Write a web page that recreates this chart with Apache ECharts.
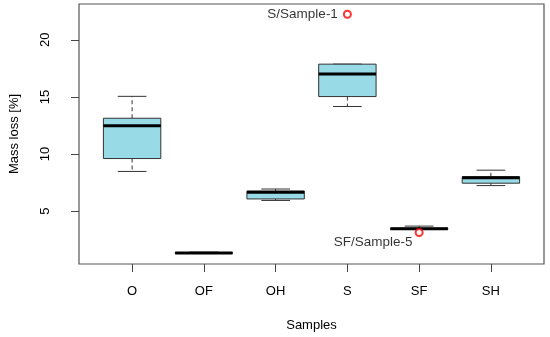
<!DOCTYPE html>
<html><head><meta charset="utf-8">
<script src="https://cdn.jsdelivr.net/npm/echarts@6/dist/echarts.min.js"></script>
<style>html,body{margin:0;padding:0;background:#fff}#c{width:550px;height:337px}</style>
</head><body><div id="c"></div>
<script>
var categories = ['O', 'OF', 'OH', 'S', 'SF', 'SH'];
var whiskerLow  = [8.47, 1.28, 5.93, 14.16, 3.38, 7.23];
var q1          = [9.60, 1.30, 6.06, 15.03, 3.40, 7.44];
var median      = [12.47, 1.33, 6.64, 17.01, 3.44, 7.92];
var q3          = [13.13, 1.36, 6.75, 17.87, 3.50, 8.00];
var whiskerHigh = [15.05, 1.40, 6.93, 17.87, 3.68, 8.58];
var outlierPos   = [4, 5];
var outlierVal   = [22.24, 3.12];
var outlierLabel = ['S/Sample-1', 'SF/Sample-5'];
var yTicks = [5, 10, 15, 20];
var xTicks = [1, 2, 3, 4, 5, 6];

var boxData = categories.map(function (c, i) {
  return [i + 1, whiskerLow[i], q1[i], median[i], q3[i], whiskerHigh[i]];
});
var FONT = 'Liberation Sans, Arial, sans-serif';
var chart = echarts.init(document.getElementById('c'), null, {renderer: 'canvas'});

function renderBox(params, api) {
  var x = api.value(0);
  var lo = api.coord([x, api.value(1)]);
  var b1 = api.coord([x, api.value(2)]);
  var md = api.coord([x, api.value(3)]);
  var b3 = api.coord([x, api.value(4)]);
  var hi = api.coord([x, api.value(5)]);
  var left = api.coord([x - 0.4, 0])[0];
  var right = api.coord([x + 0.4, 0])[0];
  var cl = api.coord([x - 0.2, 0])[0];
  var cr = api.coord([x + 0.2, 0])[0];
  var cx = lo[0];
  var thin = {stroke: '#333', lineWidth: 1};
  var dashed = {stroke: '#333', lineWidth: 1, lineDash: [4, 3]};
  return {
    type: 'group',
    children: [
      {type: 'line', shape: {x1: cx, y1: b3[1], x2: cx, y2: hi[1]}, style: dashed},
      {type: 'line', shape: {x1: cx, y1: b1[1], x2: cx, y2: lo[1]}, style: dashed},
      {type: 'line', shape: {x1: cl, y1: hi[1], x2: cr, y2: hi[1]}, style: thin},
      {type: 'line', shape: {x1: cl, y1: lo[1], x2: cr, y2: lo[1]}, style: thin},
      {type: 'rect', shape: {x: left, y: b3[1], width: right - left, height: b1[1] - b3[1]},
        style: {fill: '#98DAE5', stroke: '#333', lineWidth: 1}},
      {type: 'line', shape: {x1: left, y1: md[1], x2: right, y2: md[1]},
        style: {stroke: '#000', lineWidth: 3}}
    ]
  };
}

var outData = outlierPos.map(function (p, i) {
  return {value: [p, outlierVal[i]], name: outlierLabel[i]};
});
outData[0].label = {show: true, position: 'left', distance: 5};
outData[1].label = {show: true, position: 'inside', offset: [-46, 10]};

chart.setOption({
  animation: false,
  grid: {left: 68, right: 6, top: 4, bottom: 70, show: true, borderColor: '#555', borderWidth: 1.2},
  xAxis: {
    type: 'value', min: 0.26, max: 6.74,
    name: 'Samples', nameLocation: 'middle', nameGap: 55,
    nameTextStyle: {fontFamily: FONT, fontSize: 13, color: '#000'},
    axisLine: {show: false},
    splitLine: {show: false},
    axisTick: {show: true, length: 8, lineStyle: {color: '#444'}, customValues: xTicks},
    axisLabel: {fontFamily: FONT, fontSize: 13, color: '#000', margin: 21, customValues: xTicks,
      formatter: function (v) { return categories[Math.round(v) - 1] || ''; }}
  },
  yAxis: {
    type: 'value', min: 0.36, max: 23.14,
    name: 'Mass loss [%]', nameLocation: 'middle', nameGap: 58, nameRotate: 90,
    nameTextStyle: {fontFamily: FONT, fontSize: 13, color: '#000'},
    axisLine: {show: false},
    splitLine: {show: false},
    axisTick: {show: true, length: 8, lineStyle: {color: '#444'}, customValues: yTicks},
    axisLabel: {fontFamily: FONT, fontSize: 13, color: '#000', margin: 27, rotate: 90, customValues: yTicks}
  },
  series: [
    {type: 'custom', renderItem: renderBox, data: boxData, encode: {x: 0, y: [1, 2, 3, 4, 5]}, z: 2},
    {type: 'scatter', data: outData, symbol: 'emptyCircle', symbolSize: 7,
      itemStyle: {color: '#f00', borderColor: '#f00', borderWidth: 1},
      label: {formatter: '{b}', fontFamily: FONT, fontSize: 13.5, color: '#000'}, z: 3}
  ]
});
</script></body></html>
